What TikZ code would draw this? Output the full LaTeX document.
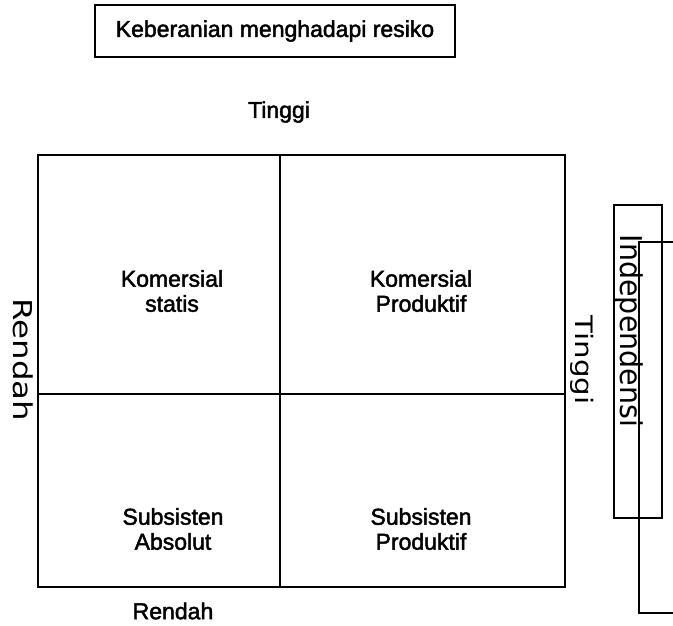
\documentclass[tikz,border=0pt]{standalone}
\usepackage{fontspec}
\setmainfont{Liberation Sans}
\newfontfamily\mainf{Liberation Sans}[FakeBold=2]
\newfontfamily\handfont{DejaVu Sans}
\begin{document}
\begin{tikzpicture}[x=1pt,y=-1pt,
  frame/.style={draw=black,line width=1.7pt},
  thin/.style={draw=black,line width=1.1pt},
  lbl/.style={font=\mainf\fontsize{23}{25}\selectfont,align=center,inner sep=0pt},
  hand/.style={rotate=-90,inner sep=0pt}]
\useasboundingbox (0,0) rectangle (673,626);
% title box
\node[frame,minimum width=360pt,minimum height=52pt,inner sep=0pt] (title) at (275,31)
  {\mainf\fontsize{23}{25}\selectfont Keberanian menghadapi resiko};
\node[lbl] (top) at (279,112) {Tinggi};
% main square
\coordinate (tl) at (38,155);
\coordinate (br) at (565,587);
\coordinate (tm) at (280,155);
\coordinate (bm) at (280,587);
\coordinate (ml) at (38,394);
\coordinate (mr) at (565,394);
\draw[frame] (tl) rectangle (br);
\draw[frame] (tm) -- (bm);
\draw[frame] (ml) -- (mr);
\node[lbl] (q1) at (172,291) {Komersial\\statis};
\node[lbl] (q2) at (421,291) {Komersial\\Produktif};
\node[lbl] (q3) at (173,529) {Subsisten\\Absolut};
\node[lbl] (q4) at (421,529) {Subsisten\\Produktif};
\node[lbl] (bot) at (173,611) {Rendah};
% handwritten labels
\node[hand] (left) at (23,360) {\scalebox{1.25}[1]{\handfont\fontsize{26}{26}\selectfont Rendah}};
\node[hand] (right) at (582,360) {\scalebox{1.22}[1]{\handfont\fontsize{24}{24}\selectfont Tinggi}};
% independensi box
\node[thin,minimum width=313pt,minimum height=48pt,inner sep=0pt,rotate=-90] (ind) at (638,361.5) {};
\node[hand] (indt) at (629,331) {\scalebox{0.95}[1]{\handfont\fontsize{30}{30}\selectfont Independensi}};
% bracket
\coordinate (b1) at (673,242);
\coordinate (b2) at (639,242);
\coordinate (b3) at (639,613);
\coordinate (b4) at (673,613);
\draw[thin] (b1) -- (b2) -- (b3) -- (b4);
\end{tikzpicture}
\end{document}
